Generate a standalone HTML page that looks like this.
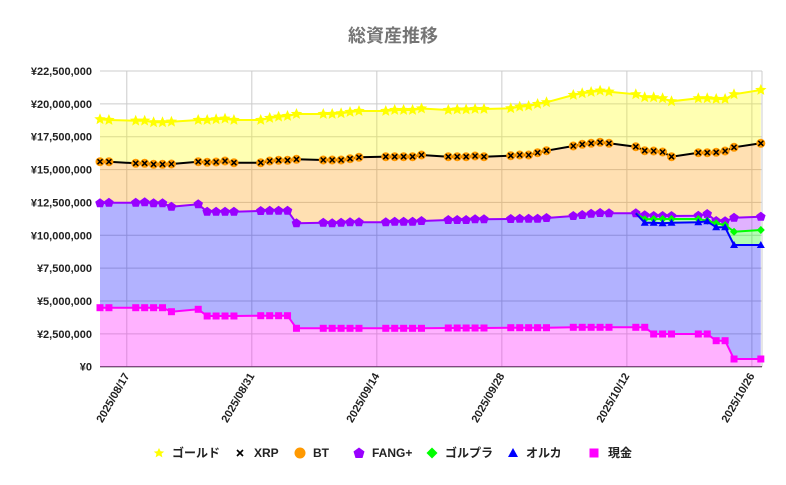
<!DOCTYPE html>
<html><head><meta charset="utf-8"><style>
html,body{margin:0;padding:0;background:#fff;}
svg{display:block;font-family:"Liberation Sans","Noto Sans CJK JP",sans-serif;}
</style></head><body>
<svg id="c" width="786" height="485" viewBox="0 0 786 485" xmlns="http://www.w3.org/2000/svg">
<rect width="786" height="485" fill="#fff"/>
<text x="393" y="42" text-anchor="middle" font-size="18" font-weight="bold" fill="#757575">総資産推移</text>
<g id="grid"></g><g id="areas"></g><g id="lines"></g><g id="labels"></g>
<g font-size="12" font-weight="bold" fill="#222">
<polygon points="159,448 160.6,451.3 164.2,451.6 161.5,453.8 162.4,457.4 159,455.4 155.6,457.4 156.5,453.8 153.8,451.6 157.4,451.3" fill="#ffff00"/>
<text x="172" y="457">ゴールド</text>
<path d="M237,450 L243,456 M243,450 L237,456" stroke="#000" stroke-width="1.6"/>
<text x="254" y="457">XRP</text>
<circle cx="300" cy="453" r="5.5" fill="#ff9900"/>
<text x="313" y="457">BT</text>
<polygon points="359,447.5 364.5,451.5 362.5,458 355.5,458 353.5,451.5" fill="#9900ff"/>
<text x="372" y="457">FANG+</text>
<polygon points="432,447.5 437.5,453 432,458.5 426.5,453" fill="#00ff00"/>
<text x="445" y="457">ゴルプラ</text>
<polygon points="513,448 518,457 508,457" fill="#0000ff"/>
<text x="526" y="457">オルカ</text>
<rect x="589.5" y="448.5" width="9" height="9" fill="#ff00ff"/>
<text x="608" y="457">現金</text>
</g>
</svg>
<script>
var NS="http://www.w3.org/2000/svg";
function el(t,a,p){var e=document.createElementNS(NS,t);for(var k in a)e.setAttribute(k,a[k]);document.getElementById(p).appendChild(e);return e;}
var X0=100,DX=8.93,Y0=366.7,YT=71;
var days=[0,1,4,5,6,7,8,11,12,13,14,15,18,19,20,21,22,25,26,27,28,29,32,33,34,35,36,39,40,41,42,43,46,47,48,49,50,53,54,55,56,57,60,61,62,63,64,67,68,69,70,71,74];
var xs=days.map(function(d){return X0+d*DX;});
var gold=[119.3,120,120.7,120.7,122.3,122.3,121.7,120,120,119.3,118.7,120,120,118,116.7,116,114,114,114,113.3,112,111,111,110,110,110,108.5,110,109.5,109.5,109,109,108.3,106.7,106,104,102.3,95,93.3,92,90.7,91.7,94.3,97.3,97.3,98.3,101.3,98.3,98.3,99,99,94.3,90];
var xrp=[161.7,161.7,163.3,163.3,164.3,164.3,164,161.7,162.3,162,161,162.7,162.7,161,160.3,160.3,159.3,160,160,160,158.7,157.3,156.7,156.7,156.7,156.7,155,156.7,156.7,156.7,156,156.7,155.7,155,155,152.7,150.7,146,144.3,143.3,142.3,143.3,146.7,150.7,151,152,156.7,152.7,152.7,152.3,151,147.3,143.3];
var fang=[203.3,202.7,202.7,202.3,203.3,203.3,206.7,204.3,211.7,211.7,211.7,211.7,211,210.7,210.7,210.7,223.3,222.7,223.3,222.7,222.3,222.3,222.3,221.7,221.7,221.7,221,220,220,220,219.3,219.3,219,218.7,218.7,218.7,218,216,215,213.7,213,213.3,213.3,215.3,216,216,216,215.7,214,221,221.3,217.7,216.7];
var cash=[307.7,307.7,307.7,307.7,307.7,307.7,311.7,309.3,316,316,316,316,315.7,315.7,315.7,315.7,328.3,328.3,328.3,328.3,328.3,328.3,328.3,328.3,328.3,328.3,328.3,328,328,328,328,328,327.7,327.7,327.7,327.7,327.7,327.3,327.3,327.3,327.3,327.3,327.3,327.3,334,334,334,334,334,340.7,340.7,359,359];
var golpla=fang.slice(),orca=fang.slice();
var gp={43:219.3,44:219,45:219,46:219,47:219,48:220.7,49:223.3,50:225,51:231.7,52:230};
var oc={43:222.7,44:222.7,45:223.3,46:222.7,47:222.3,48:221.3,49:227.3,50:227.3,51:245,52:245};
for(var k in gp){golpla[k]=gp[k];orca[k]=oc[k];}
// grid
for(var i=0;i<=9;i++){var y=Y0-i*(Y0-YT)/9;
 el("line",{x1:X0,x2:762,y1:y,y2:y,stroke:"#cccccc","stroke-width":1},"grid");
 var v=i*2500000,s="¥"+v.toLocaleString("en-US");
 var t=el("text",{x:92,y:y+4,"text-anchor":"end","font-size":"11","font-weight":"bold",fill:"#222"},"labels");t.textContent=s;}
var ticks=[[3,"2025/08/17"],[17,"2025/08/31"],[31,"2025/09/14"],[45,"2025/09/28"],[59,"2025/10/12"],[73,"2025/10/26"]];
ticks.forEach(function(tk){var x=X0+tk[0]*DX;
 el("line",{x1:x,x2:x,y1:YT,y2:Y0,stroke:"#cccccc","stroke-width":1},"grid");
 var t=el("text",{x:0,y:0,"text-anchor":"end","font-size":"11","font-weight":"bold",fill:"#222",transform:"translate("+(x+3)+","+(Y0+9)+") rotate(-60)"},"labels");t.textContent=tk[1];});
el("line",{x1:762,x2:762,y1:YT,y2:Y0,stroke:"#cccccc"},"grid");
function pts(a){return a.map(function(y,i){return xs[i].toFixed(1)+","+y;}).join(" ");}
function band(top,bot,fill){var p=pts(top);var b=bot?bot.map(function(y,i){return xs[i].toFixed(1)+","+y;}).reverse().join(" "):(xs[xs.length-1]+","+Y0+" "+xs[0]+","+Y0);
 el("polygon",{points:p+" "+b,fill:fill,"fill-opacity":"0.3"},"areas");}
band(gold,xrp,"#ffff00");band(xrp,fang,"#ff9900");band(fang,golpla,"#9900ff");band(golpla,orca,"#00ff00");band(orca,cash,"#0000ff");band(cash,null,"#ff00ff");
el("line",{x1:X0,x2:762,y1:Y0,y2:Y0,stroke:"#333","stroke-width":1},"grid");
function line(a,c,w){el("polyline",{points:pts(a),fill:"none",stroke:c,"stroke-width":w||2},"lines");}
function star(x,y,r,c){var p=[];for(var i=0;i<10;i++){var a=-Math.PI/2+i*Math.PI/5,rr=i%2?r*0.45:r;p.push((x+rr*Math.cos(a)).toFixed(1)+","+(y+rr*Math.sin(a)).toFixed(1));}el("polygon",{points:p.join(" "),fill:c},"lines");}
line(gold,"#ffff00");gold.forEach(function(y,i){star(xs[i],y,6,"#ffff00");});
line(xrp,"#000");xrp.forEach(function(y,i){el("circle",{cx:xs[i],cy:y,r:4.5,fill:"#ff9900"},"lines");el("path",{d:"M"+(xs[i]-2.5)+","+(y-2.5)+"l5,5m0,-5l-5,5",stroke:"#000","stroke-width":1.5},"lines");});
line(fang,"#9900ff");fang.forEach(function(y,i){var x=xs[i],r=5;el("polygon",{points:[0,1,2,3,4].map(function(k){var a=-Math.PI/2+k*2*Math.PI/5;return (x+r*Math.cos(a)).toFixed(1)+","+(y+r*Math.sin(a)).toFixed(1);}).join(" "),fill:"#9900ff"},"lines");});
var gs=golpla.slice(42),os=orca.slice(42),xs2=xs.slice(42);
function pl(a,c){el("polyline",{points:a.map(function(y,i){return xs2[i].toFixed(1)+","+y;}).join(" "),fill:"none",stroke:c,"stroke-width":2},"lines");}
pl(gs,"#00ff00");gs.forEach(function(y,i){if(i>0)el("polygon",{points:xs2[i]+","+(y-4)+" "+(xs2[i]+4)+","+y+" "+xs2[i]+","+(y+4)+" "+(xs2[i]-4)+","+y,fill:"#00ff00"},"lines");});
pl(os,"#0000ff");os.forEach(function(y,i){if(i>0)el("polygon",{points:xs2[i]+","+(y-4)+" "+(xs2[i]+4)+","+(y+3)+" "+(xs2[i]-4)+","+(y+3),fill:"#0000ff"},"lines");});
line(cash,"#ff00ff");cash.forEach(function(y,i){el("rect",{x:xs[i]-3.5,y:y-3.5,width:7,height:7,fill:"#ff00ff"},"lines");});
</script>
</body></html>
